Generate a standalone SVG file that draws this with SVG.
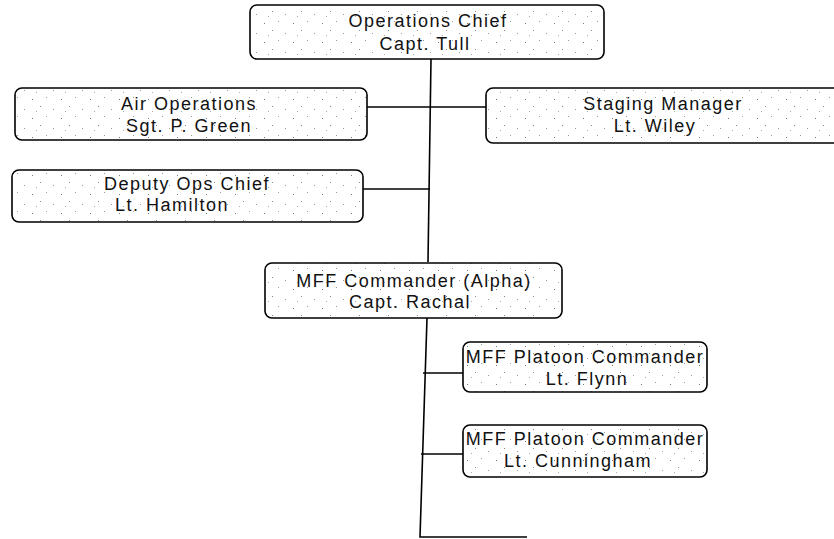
<svg xmlns="http://www.w3.org/2000/svg" width="834" height="539" viewBox="0 0 834 539">
<defs>
<pattern id="speck" width="29" height="19" patternUnits="userSpaceOnUse">
<rect width="29" height="19" fill="#ffffff"/>
<rect x="3" y="4" width="1" height="1" fill="#777"/>
<rect x="17" y="2" width="1" height="1" fill="#999"/>
<rect x="11" y="11" width="1" height="1" fill="#888"/>
<rect x="24" y="14" width="1" height="1" fill="#999"/>
<rect x="7" y="16" width="1" height="1" fill="#aaa"/>
</pattern>
<style>
.box{fill:url(#speck);stroke:#000;stroke-width:1.6}
.t{font-family:"Liberation Sans",Arial,sans-serif;font-size:18px;letter-spacing:1.5px;fill:#111;text-anchor:middle}
.c{stroke:#000;stroke-width:1.6;fill:none}
</style>
</defs>
<g id="connectors">
<path class="c" d="M431,59 L428,262"/>
<path class="c" d="M367,107 L486,107"/>
<path class="c" d="M363,189 L430,189"/>
<path class="c" d="M427,318 L420,537 L527,537"/>
<path class="c" d="M423,373 L463,373"/>
<path class="c" d="M421,454 L463,454"/>
</g>
<g id="ops-chief">
<rect class="box" x="250" y="5" width="354" height="54" rx="7"/>
<text class="t" x="428" y="27">Operations Chief</text>
<text class="t" x="425" y="50">Capt. Tull</text>
</g>
<g id="air-ops">
<rect class="box" x="15" y="88" width="352" height="52" rx="7"/>
<text class="t" x="189" y="110">Air Operations</text>
<text class="t" x="189" y="132">Sgt. P. Green</text>
</g>
<g id="staging">
<rect class="box" x="486" y="88" width="370" height="55" rx="7"/>
<text class="t" x="663" y="110">Staging Manager</text>
<text class="t" x="655" y="132">Lt. Wiley</text>
</g>
<g id="deputy">
<rect class="box" x="12" y="170" width="351" height="52" rx="7"/>
<text class="t" x="187" y="190">Deputy Ops Chief</text>
<text class="t" x="172" y="211">Lt. Hamilton</text>
</g>
<g id="mff-commander">
<rect class="box" x="265" y="263" width="297" height="55" rx="7"/>
<text class="t" x="414" y="287">MFF Commander (Alpha)</text>
<text class="t" x="410" y="308">Capt. Rachal</text>
</g>
<g id="flynn">
<rect class="box" x="463" y="342" width="244" height="50" rx="7"/>
<text class="t" x="585" y="363">MFF Platoon Commander</text>
<text class="t" x="587" y="385">Lt. Flynn</text>
</g>
<g id="cunningham">
<rect class="box" x="463" y="425" width="244" height="52" rx="7"/>
<text class="t" x="585" y="445">MFF Platoon Commander</text>
<text class="t" x="578" y="467">Lt. Cunningham</text>
</g>
</svg>
